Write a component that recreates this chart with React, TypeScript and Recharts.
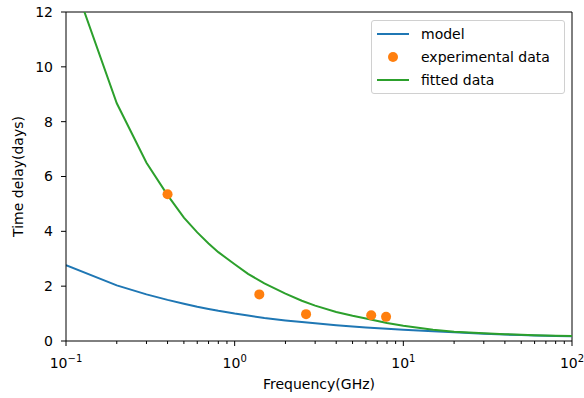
import { ComposedChart, Line, Scatter, XAxis, YAxis, ReferenceLine, Legend } from "recharts";

const BLUE = "#1f77b4";
const ORANGE = "#ff7f0e";
const GREEN = "#2ca02c";

// curve sample frequencies (GHz)
const freqs = [0.1, 0.2, 0.3, 0.4, 0.5, 0.6, 0.7, 0.8, 1, 1.2, 1.5, 2, 2.5, 3, 4, 5, 6, 8, 10, 15, 20, 30, 40, 50, 60, 80, 100];
const modelDelay = [2.77, 2.03, 1.7, 1.5, 1.36, 1.25, 1.17, 1.1, 1.0, 0.93, 0.84, 0.75, 0.69, 0.645, 0.575, 0.525, 0.49, 0.45, 0.41, 0.355, 0.315, 0.265, 0.235, 0.22, 0.205, 0.185, 0.17];
const fittedDelay = [13.9, 8.67, 6.5, 5.32, 4.5, 3.96, 3.56, 3.24, 2.8, 2.45, 2.1, 1.73, 1.47, 1.29, 1.06, 0.92, 0.82, 0.66, 0.56, 0.41, 0.34, 0.28, 0.25, 0.23, 0.21, 0.195, 0.18];

const expFreqs = [0.4, 1.4, 2.65, 6.45, 7.9];
const expDelay = [5.35, 1.7, 0.98, 0.94, 0.88];

const xTicks = [0.1, 0.2, 0.3, 0.4, 0.5, 0.6, 0.7, 0.8, 0.9, 1, 2, 3, 4, 5, 6, 7, 8, 9, 10, 20, 30, 40, 50, 60, 70, 80, 90, 100];
const yTicks = [0, 2, 4, 6, 8, 10, 12];

const modelData = freqs.map((f, i) => ({ f, delay: modelDelay[i] }));
const fittedData = freqs.map((f, i) => ({ f, delay: fittedDelay[i] }));
const expData = expFreqs.map((f, i) => ({ f, delay: expDelay[i] }));

const legendItems = [
  { name: "model", color: BLUE, kind: "line" },
  { name: "experimental data", color: ORANGE, kind: "dot" },
  { name: "fitted data", color: GREEN, kind: "line" },
];

function FreqTick(props: any) {
  const { x, y, payload } = props;
  const e = Math.log10(payload.value);
  const exp = Math.round(e);
  const major = Math.abs(e - exp) < 1e-6;
  return (
    <g>
      <line x1={x} x2={x} y1={y} y2={y + (major ? 5 : 3)} stroke="#000" strokeWidth={1} />
      {major && (
        <text x={x} y={y + 27} textAnchor="middle" fontSize={14} fill="#000">
          10
          <tspan dy={-6} fontSize={10}>
            {exp < 0 ? "\u2212" + Math.abs(exp) : String(exp)}
          </tspan>
        </text>
      )}
    </g>
  );
}

function LegendBox() {
  return (
    <div
      style={{
        border: "1px solid #d0d0d0",
        borderRadius: 3,
        background: "rgba(255,255,255,0.8)",
        padding: "1px 6px 2px 5px",
        fontSize: 14,
        color: "#000",
      }}
    >
      {legendItems.map((it) => (
        <div key={it.name} style={{ display: "flex", alignItems: "center", height: 23 }}>
          <svg width={32} height={12} style={{ marginRight: 12 }}>
            {it.kind === "line" ? (
              <line x1={0} x2={32} y1={6} y2={6} stroke={it.color} strokeWidth={2} />
            ) : (
              <circle cx={16} cy={6} r={5} fill={it.color} />
            )}
          </svg>
          <span>{it.name}</span>
        </div>
      ))}
    </div>
  );
}

export default function App() {
  return (
    <div style={{ position: "absolute", left: 0, top: 0, fontFamily: "'DejaVu Sans', sans-serif", background: "#fff" }}>
      <ComposedChart width={584} height={398} margin={{ top: 12, right: 12, bottom: 0, left: 0 }}>
        <XAxis
          dataKey="f"
          type="number"
          scale="log"
          domain={[0.1, 100]}
          ticks={xTicks}
          interval={0}
          allowDataOverflow
          height={57}
          tickSize={0}
          tickMargin={0}
          tickLine={false}
          tick={<FreqTick />}
          axisLine={{ stroke: "#000" }}
          label={{
            content: (p: any) => {
              const vb = p.viewBox || { x: 66, y: 341, width: 506, height: 57 };
              return (
                <text x={vb.x + vb.width / 2} y={vb.y + 48} textAnchor="middle" fontSize={14} fill="#000">
                  Frequency(GHz)
                </text>
              );
            },
          }}
        />
        <YAxis
          dataKey="delay"
          type="number"
          domain={[0, 12]}
          ticks={yTicks}
          allowDataOverflow
          width={66}
          tickSize={5}
          tickMargin={8}
          tick={{ fontSize: 14, fill: "#000" }}
          tickLine={{ stroke: "#000" }}
          axisLine={{ stroke: "#000" }}
          label={{
            content: (p: any) => {
              const vb = p.viewBox || { x: 0, y: 12, width: 66, height: 329 };
              const cx = vb.x + 23;
              const cy = vb.y + vb.height / 2;
              return (
                <text x={cx} y={cy} transform={`rotate(-90, ${cx}, ${cy})`} textAnchor="middle" fontSize={14} fill="#000">
                  Time delay(days)
                </text>
              );
            },
          }}
        />
        <ReferenceLine y={12} stroke="#000" strokeWidth={1} />
        <ReferenceLine x={100} stroke="#000" strokeWidth={1} />
        <Line data={modelData} dataKey="delay" name="model" stroke={BLUE} strokeWidth={2} dot={false} type="linear" isAnimationActive={false} />
        <Scatter data={expData} dataKey="delay" name="experimental data" fill={ORANGE} isAnimationActive={false}
          shape={(p: any) => <circle cx={p.cx} cy={p.cy} r={5} fill={ORANGE} />} />
        <Line data={fittedData} dataKey="delay" name="fitted data" stroke={GREEN} strokeWidth={2} dot={false} type="linear" isAnimationActive={false} />
        <Legend
          layout="vertical"
          align="center"
          verticalAlign="middle"
          content={<LegendBox />}
          wrapperStyle={{ position: "absolute", left: 371, top: 20, width: 194 }}
        />
      </ComposedChart>
    </div>
  );
}
